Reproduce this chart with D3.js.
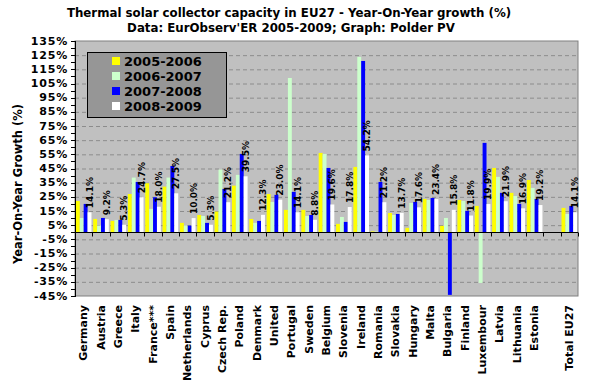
<!DOCTYPE html>
<html>
<head>
<meta charset="utf-8">
<script src="https://cdn.jsdelivr.net/npm/d3@7"></script>
<style>
  body { margin: 0; background: #fff; }
  text { font-family: "DejaVu Sans", Verdana, sans-serif; }
</style>
</head>
<body>
<svg id="chart"></svg>
<script>
// data (growth in %)
let categories = ["Germany", "Austria", "Greece", "Italy", "France***", "Spain", "Netherlands", "Cyprus",
  "Czech Rep.", "Poland", "Denmark", "United", "Portugal", "Sweden", "Belgium", "Slovenia", "Ireland",
  "Romania", "Slovakia", "Hungary", "Malta", "Bulgaria", "Finland", "Luxembour", "Latvia", "Lithuania",
  "Estonia", "", "Total EU27"];
let seriesNames = ["2005-2006", "2006-2007", "2007-2008", "2008-2009"];
let seriesColors = ["#ffff00", "#ccffcc", "#0000ff", "#ffffff"];
let growth0506 = [22.1, 9.4, 8.0, 27.0, 34.6, 32.2, 6.6, 12.2, 14.6, 32.9, 9.4, 27.0, 15.8, 15.8, 56.0, 5.9,
  46.1, 0.6, 13.6, 3.1, 23.5, 4.5, 22.8, 18.6, 45.4, 27.8, 36.9, null, 17.2];
let growth0607 = [10.1, 4.7, 8.7, 38.6, 16.5, 38.6, 4.7, 11.5, 44.2, 40.5, 6.6, 21.4, 108.9, 11.5, 55.3, 10.8,
  123.8, 0.5, 12.2, 20.7, 22.8, 10.1, 22.1, -35.8, 39.1, 25.6, 31.3, null, 12.9];
let growth0708 = [20.0, 10.1, 8.7, 35.5, 24.7, 46.8, 4.7, 6.6, 30.6, 55.3, 8.0, 26.4, 28.5, 12.2, 45.4, 7.3,
  120.9, 35.5, 12.9, 21.4, 24.2, -44.2, 15.1, 63.1, 27.8, 20.0, 23.5, null, 18.6];
let growth0809 = [14.1, 9.2, 5.3, 24.7, 18.0, 27.5, 10.0, 5.3, 21.2, 39.5, 12.3, 23.0, 14.1, 8.8, 19.6, 17.8,
  54.2, 21.2, 13.7, 17.6, 23.4, 15.8, 11.8, 19.9, 21.9, 16.9, 19.2, null, 14.1];
let yTicks = d3.range(-45, 136, 10);

let width = 591;
let height = 391;
let plotLeft = 75, plotRight = 578, plotTop = 41, plotBottom = 296;

let svg = d3.select("#chart").attr("width", width).attr("height", height);

// scales
let x0 = d3.scaleBand().domain(categories).range([plotLeft, plotRight]).paddingInner(0.1).paddingOuter(0.05);
let x1 = d3.scaleBand().domain(seriesNames).range([0, x0.bandwidth()]);
let y = d3.scaleLinear().domain([-45, 135]).range([plotBottom, plotTop]);

// plot background
svg.append("rect")
  .attr("x", plotLeft).attr("y", plotTop)
  .attr("width", plotRight - plotLeft).attr("height", plotBottom - plotTop)
  .attr("fill", "#c0c0c0").attr("stroke", "#808080");

// dashed gridlines
svg.append("g").selectAll("line").data(yTicks.slice(1, -1)).enter().append("line")
  .attr("x1", plotLeft).attr("x2", plotRight)
  .attr("y1", d => y(d) + 0.5).attr("y2", d => y(d) + 0.5)
  .attr("stroke", "#8c8c8c").attr("stroke-dasharray", "4,3");

// bars
let allSeries = [growth0506, growth0607, growth0708, growth0809];
let rows = [];
allSeries.forEach(function(values, s) {
  values.forEach(function(v, i) {
    if (v !== null) rows.push({cat: categories[i], series: seriesNames[s], color: seriesColors[s], value: v});
  });
});
svg.append("g").selectAll("rect").data(rows).enter().append("rect")
  .attr("x", d => x0(d.cat) + x1(d.series))
  .attr("width", x1.bandwidth())
  .attr("y", d => y(Math.max(0, d.value)))
  .attr("height", d => Math.abs(y(d.value) - y(0)))
  .attr("fill", d => d.color);

// zero line with category ticks
let zero = Math.round(y(0)) + 0.5;
svg.append("line").attr("x1", plotLeft).attr("x2", plotRight).attr("y1", zero).attr("y2", zero)
  .attr("stroke", "#000");
svg.append("g").selectAll("line").data(d3.range(categories.length + 1)).enter().append("line")
  .attr("x1", i => Math.round(plotLeft + i * x0.step()) + 0.5)
  .attr("x2", i => Math.round(plotLeft + i * x0.step()) + 0.5)
  .attr("y1", zero).attr("y2", zero + 4)
  .attr("stroke", "#000");

// y axis line, ticks and labels
svg.append("line").attr("x1", plotLeft + 0.5).attr("x2", plotLeft + 0.5)
  .attr("y1", plotTop).attr("y2", plotBottom + 1).attr("stroke", "#000");
svg.append("g").selectAll("line").data(d3.range(-45, 136, 5)).enter().append("line")
  .attr("x1", plotLeft - 4).attr("x2", plotLeft)
  .attr("y1", d => Math.round(y(d)) + 0.5).attr("y2", d => Math.round(y(d)) + 0.5)
  .attr("stroke", "#000");
svg.append("g").selectAll("text").data(yTicks).enter().append("text")
  .attr("x", 68).attr("y", d => y(d))
  .attr("text-anchor", "end").attr("dominant-baseline", "central")
  .attr("font-size", 11).attr("font-weight", "bold").attr("letter-spacing", 0.8)
  .text(d => d + "%");

// category labels
svg.append("g").selectAll("text").data(categories).enter().append("text")
  .attr("transform", d => translate(x0(d) + x0.bandwidth() / 2, 305) + " rotate(-90)")
  .attr("text-anchor", "end").attr("dominant-baseline", "central")
  .attr("font-size", 11).attr("font-weight", "bold")
  .text(d => d);

// data labels for 2008-2009
let labelRows = rows.filter(d => d.series === "2008-2009");
svg.append("g").selectAll("text").data(labelRows).enter().append("text")
  .attr("transform", d => translate(x0(d.cat) + x1(d.series) + x1.bandwidth() / 2, y(d.value) - 4) + " rotate(-90)")
  .attr("dominant-baseline", "central")
  .attr("font-family", "'Liberation Sans', Arial, sans-serif")
  .attr("font-size", 9).attr("font-weight", "bold")
  .text(d => d.value.toFixed(1) + "%");

// legend
let legend = svg.append("g").attr("transform", translate(87, 52));
legend.append("rect").attr("x", 0.5).attr("y", 0.5).attr("width", 139).attr("height", 65)
  .attr("fill", "#969696").attr("stroke", "#000");
seriesNames.forEach(function(name, i) {
  legend.append("rect").attr("x", 25).attr("y", 5 + i * 15).attr("width", 8).attr("height", 8)
    .attr("fill", seriesColors[i]);
  legend.append("text").attr("x", 37).attr("y", 9 + i * 15)
    .attr("dominant-baseline", "central")
    .attr("font-size", 13).attr("font-weight", "bold")
    .text(name);
});

// titles
svg.append("text").attr("x", 289).attr("y", 17).attr("text-anchor", "middle")
  .attr("font-size", 11.8).attr("font-weight", "bold")
  .text("Thermal solar collector capacity in EU27 - Year-On-Year growth (%)");
svg.append("text").attr("x", 291).attr("y", 32).attr("text-anchor", "middle")
  .attr("font-size", 11.8).attr("font-weight", "bold")
  .text("Data: EurObserv'ER 2005-2009; Graph: Polder PV");
svg.append("text").attr("transform", translate(18, 184) + " rotate(-90)")
  .attr("text-anchor", "middle").attr("dominant-baseline", "central")
  .attr("font-family", "'Liberation Sans', Arial, sans-serif")
  .attr("font-size", 11.5).attr("font-weight", "bold")
  .text("Year-On-Year Growth (%)");

function translate(x, y) {
  return 'translate(' + String(x) + ',' + String(y) + ')';
}
</script>
</body>
</html>
